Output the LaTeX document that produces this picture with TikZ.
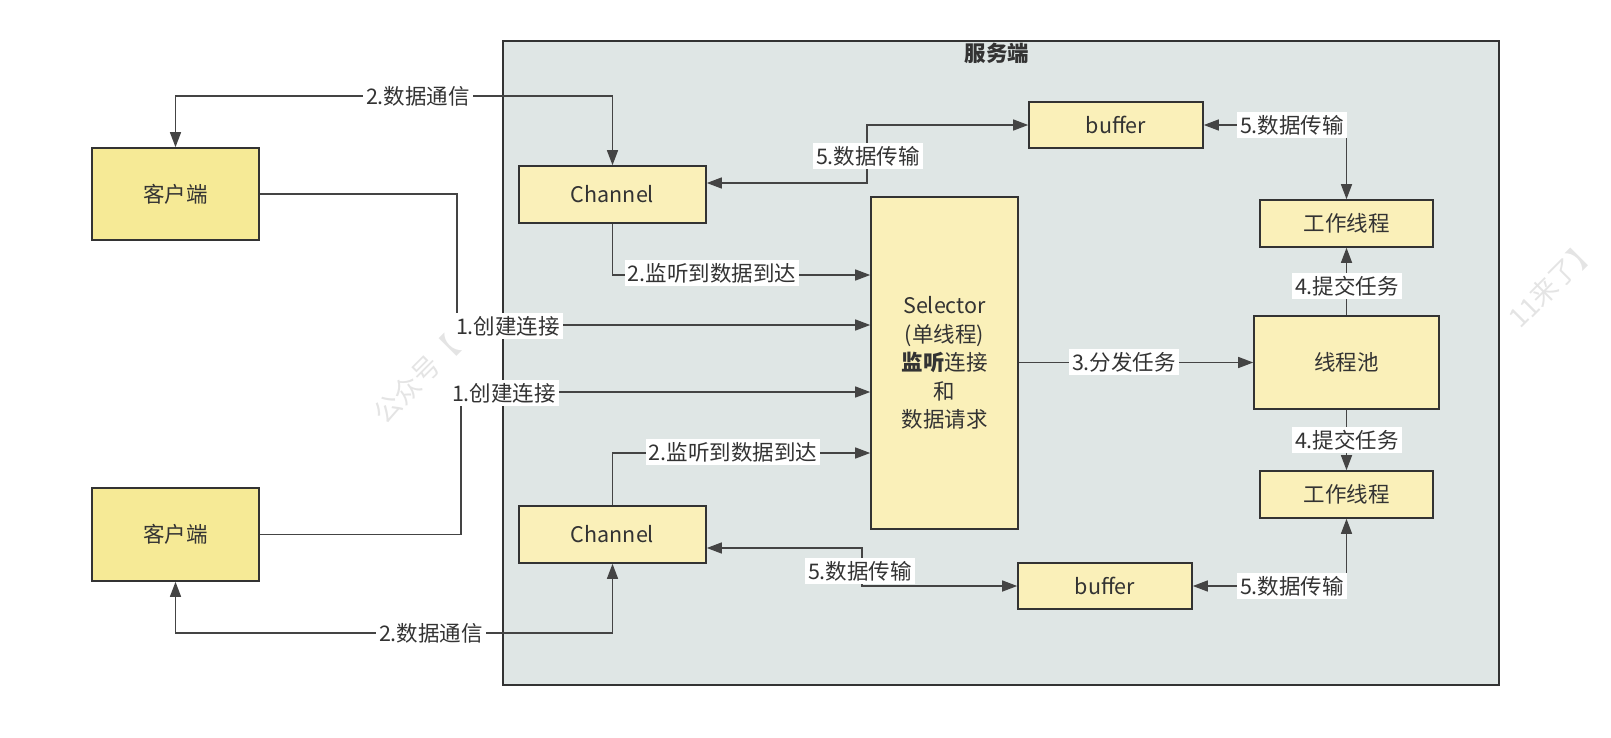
\documentclass[tikz,border=0pt]{standalone}
\usepackage{fontspec}
\setmainfont{Noto Sans CJK SC}
\usetikzlibrary{arrows.meta}
\definecolor{clientfill}{HTML}{F6EA96}
\definecolor{boxin}{HTML}{FAF0B9}
\definecolor{serverbg}{HTML}{DFE6E5}
\definecolor{txt}{HTML}{333333}
\definecolor{linec}{HTML}{444444}
\definecolor{wmc}{HTML}{E4E4E4}
\newcommand{\myfs}{\fontsize{21.5}{28.5}\selectfont}
\tikzset{
  box/.style={draw=txt, line width=1.6pt, fill=boxin, text=txt, font=\myfs, inner sep=0pt, align=center},
  client/.style={box, fill=clientfill},
  conn/.style={draw=linec, line width=1.4pt},
  lbl/.style={fill=white, inner sep=3pt, text=txt, font=\myfs},
  wmark/.style={text=wmc, font=\fontsize{27}{30}\selectfont, rotate=45, inner sep=0pt},
  >={Triangle[length=15pt,width=11pt]}
}
\begin{document}
\begin{tikzpicture}[x=1pt,y=-1pt]
\useasboundingbox (0,0) rectangle (1611,737);
% watermark
\node[wmark, anchor=west] (wm1) at (378,418) {公众号【};
\node[wmark, anchor=east] (wm2) at (1592,244) {11来了】};
% server
\node[draw=txt, line width=1.6pt, fill=serverbg, minimum width=996pt, minimum height=644pt, anchor=north west, inner sep=0pt] (server) at (502,40) {};
\node[font=\myfs\bfseries, text=txt] (title) at (997,53) {服务端};
% nodes
\node[client, minimum width=167pt, minimum height=92pt] (c1) at (175.5,194) {客户端};
\node[client, minimum width=167pt, minimum height=93pt] (c2) at (175.5,534.5) {客户端};
\node[box, minimum width=187pt, minimum height=57pt] (ch1) at (612.5,194.5) {Channel};
\node[box, minimum width=187pt, minimum height=57pt] (ch2) at (612.5,534.5) {Channel};
\node[box, minimum width=174pt, minimum height=46pt] (buf1) at (1116,125) {buffer};
\node[box, minimum width=174pt, minimum height=46pt] (buf2) at (1105,586) {buffer};
\node[box, minimum width=173pt, minimum height=47pt] (w1) at (1346.5,223.5) {工作线程};
\node[box, minimum width=173pt, minimum height=47pt] (w2) at (1346.5,494.5) {工作线程};
\node[box, minimum width=185pt, minimum height=93pt] (pool) at (1346.5,362.5) {线程池};
\node[box, minimum width=147pt, minimum height=332pt] (sel) at (944.5,363) {Selector\\(单线程)\\\textbf{监听}连接\\和\\数据请求};
% corner coordinates
\coordinate (k1) at (418,96);
\coordinate (k2) at (431,633);
\coordinate (k3) at (457,325);
\coordinate (k3b) at (461,392);
\coordinate (k4) at (0,275);
\coordinate (k5) at (0,453);
\coordinate (k6) at (867,183);
\coordinate (k7) at (862,548);
% connectors
\draw[conn,<->] (c1.north) |- (k1) -| (ch1.north);
\draw[conn,<->] (c2.south) |- (k2) -| (ch2.south);
\draw[conn,->] (c1.east) -| (k3) -- (sel.west |- k3);
\draw[conn,->] (c2.east) -| (k3b) -- (sel.west |- k3b);
\draw[conn,->] (ch1.south) |- (sel.west |- k4);
\draw[conn,->] (ch2.north) |- (sel.west |- k5);
\draw[conn,<->] (buf1.west) -| (k6) -- (ch1.east |- k6);
\draw[conn,<->] (ch2.east |- k7) -- (k7) |- (buf2.west);
\draw[conn,<->] (buf1.east) -| (w1.north);
\draw[conn,<->] (buf2.east) -| (w2.south);
\draw[conn,->] (sel.east |- pool.west) -- (pool.west);
\draw[conn,->] (pool.north) -- (w1.south);
\draw[conn,->] (pool.south) -- (w2.north);
% labels
\node[lbl] (l1) at (418,96) {2.数据通信};
\node[lbl] (l2) at (431,633) {2.数据通信};
\node[lbl] (l3) at (508,326) {1.创建连接};
\node[lbl] (l4) at (504,393) {1.创建连接};
\node[lbl] (l5) at (712,273) {2.监听到数据到达};
\node[lbl] (l6) at (733,452) {2.监听到数据到达};
\node[lbl] (l7) at (868,156) {5.数据传输};
\node[lbl] (l8) at (860,571) {5.数据传输};
\node[lbl] (l9) at (1292,125) {5.数据传输};
\node[lbl] (l10) at (1292,586) {5.数据传输};
\node[lbl] (l11) at (1124,362) {3.分发任务};
\node[lbl] (l12) at (1347,286) {4.提交任务};
\node[lbl] (l13) at (1347,440) {4.提交任务};
\end{tikzpicture}
\end{document}
